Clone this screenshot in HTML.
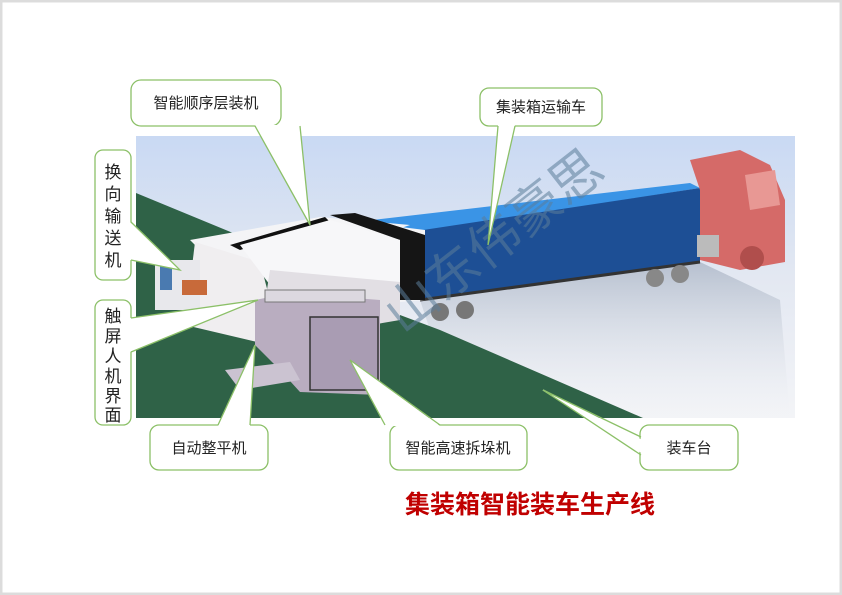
<!DOCTYPE html>
<html><head><meta charset="utf-8">
<style>
html,body{margin:0;padding:0;background:#fff;}
svg{display:block;}
text{font-family:"Liberation Sans","Noto Sans CJK SC",sans-serif;}
</style></head>
<body>
<svg width="842" height="595" viewBox="0 0 842 595" xmlns="http://www.w3.org/2000/svg">
<defs>
<linearGradient id="sky" x1="0" y1="0" x2="0" y2="1">
<stop offset="0" stop-color="#c9d9f3"/>
<stop offset="0.5" stop-color="#e3e8f2"/>
<stop offset="1" stop-color="#f3f4f7"/>
</linearGradient>
<linearGradient id="refl" x1="0" y1="0" x2="0" y2="1">
<stop offset="0" stop-color="#9aa6b8"/>
<stop offset="1" stop-color="#eef0f4" stop-opacity="0"/>
</linearGradient>
</defs>
<rect x="0" y="0" width="842" height="595" fill="#fff" stroke="#dcdcdc" stroke-width="5"/>
<rect x="136" y="136" width="659" height="282" fill="url(#sky)"/>
<polygon points="420,300 700,262 780,300 790,418 643,418 430,330" fill="url(#refl)" opacity="0.6"/>
<polygon points="136,193 250,240 360,300 440,330 643,418 136,418" fill="#2f6247"/>
<polygon points="355,222 690,183 700,188 420,232" fill="#3a94e6"/>
<polygon points="410,232 700,188 700,262 420,300" fill="#1d4f95"/>
<line x1="420" y1="300" x2="700" y2="262" stroke="#333" stroke-width="3"/>
<circle cx="655" cy="278" r="9" fill="#888"/><circle cx="680" cy="274" r="9" fill="#888"/>
<circle cx="440" cy="312" r="9" fill="#777"/><circle cx="465" cy="310" r="9" fill="#777"/>
<polygon points="690,160 740,150 770,165 785,200 785,262 740,270 700,260 700,190" fill="#d56a68"/>
<polygon points="745,175 775,170 780,205 750,210" fill="#e89894"/>
<circle cx="752" cy="258" r="12" fill="#b04e4c"/>
<rect x="697" y="235" width="22" height="22" fill="#bbb"/>
<polygon points="190,240 320,217 410,225 300,262 210,260" fill="#f4f4f6"/>
<polygon points="300,240 350,215 405,230 410,300 290,305" fill="#eeeaee"/>
<polygon points="230,245 320,217 425,230 425,300 360,305" fill="#f5f5f7"/>
<polygon points="230,245 325,217 330,222 240,250" fill="#111"/>
<polygon points="330,215 355,213 425,235 425,300 400,300 400,240" fill="#151515"/>
<polygon points="195,242 260,262 270,300 270,345 185,325" fill="#f0eef0"/>
<polygon points="240,245 330,220 400,240 400,290 270,285" fill="#f7f7f9"/>
<rect x="155" y="260" width="45" height="50" fill="#e8e8ec"/>
<rect x="160" y="265" width="12" height="25" fill="#4a7ab0"/>
<rect x="182" y="280" width="25" height="15" fill="#c86a3a"/>
<polygon points="270,270 400,282 400,320 285,340 260,335" fill="#e2dfe4"/>
<polygon points="255,300 290,293 380,300 380,395 300,392 280,370 255,345" fill="#b9adc0"/>
<rect x="310" y="317" width="68" height="73" fill="#a99cb3" stroke="#333" stroke-width="1.5"/>
<rect x="265" y="290" width="100" height="12" fill="#dcd8e0" stroke="#777"/>
<polygon points="225,370 290,362 300,380 240,390" fill="#cbc3d1"/>
<text x="505" y="255" font-size="52" fill="#5b7d9a" opacity="0.55" transform="rotate(-38 505 255)" text-anchor="middle">山东伟豪思</text>
<g fill="#fff" stroke="#8cc068" stroke-width="1.3">
<rect x="131" y="80" width="150" height="46" rx="10"/>
<polygon points="255,125 300,125 310,225" stroke="none"/>
<polyline points="255,126 310,225 300,126" fill="none"/>
<rect x="480" y="88" width="122" height="38" rx="9"/>
<polygon points="498,125 515,125 488,245" stroke="none"/>
<polyline points="498,126 488,245 515,126" fill="none"/>
<rect x="95" y="150" width="36" height="130" rx="8"/>
<polygon points="130,222 130,260 180,270" stroke="none"/>
<polyline points="131,222 180,270 131,260" fill="none"/>
<rect x="95" y="300" width="36" height="125" rx="8"/>
<polygon points="130,318 130,352 258,300" stroke="none"/>
<polyline points="131,318 258,300 131,352" fill="none"/>
<rect x="150" y="425" width="118" height="45" rx="9"/>
<polygon points="218,426 250,426 255,345" stroke="none"/>
<polyline points="218,425 255,345 250,425" fill="none"/>
<rect x="390" y="425" width="137" height="45" rx="9"/>
<polygon points="385,426 440,426 350,360" stroke="none"/>
<polyline points="385,425 350,360 440,425" fill="none"/>
<rect x="640" y="425" width="98" height="45" rx="9"/>
<polygon points="641,440 641,452 543,390" stroke="#fff"/>
<polyline points="641,437 543,390 641,455" fill="none"/>
</g>
<g font-size="15" fill="#222" text-anchor="middle">
<text x="206" y="108">智能顺序层装机</text>
<text x="541" y="112">集装箱运输车</text>
<text x="209" y="453">自动整平机</text>
<text x="458" y="453">智能高速拆垛机</text>
<text x="689" y="453">装车台</text>
<g font-size="17">
<text x="113" y="178">换</text><text x="113" y="200">向</text><text x="113" y="222">输</text><text x="113" y="244">送</text><text x="113" y="266">机</text>
<text x="113" y="322">触</text><text x="113" y="342">屏</text><text x="113" y="362">人</text><text x="113" y="382">机</text><text x="113" y="402">界</text><text x="113" y="421">面</text>
</g>
</g>
<text x="530" y="513" font-size="25" font-weight="bold" fill="#c00000" text-anchor="middle">集装箱智能装车生产线</text>
</svg>
</body></html>
